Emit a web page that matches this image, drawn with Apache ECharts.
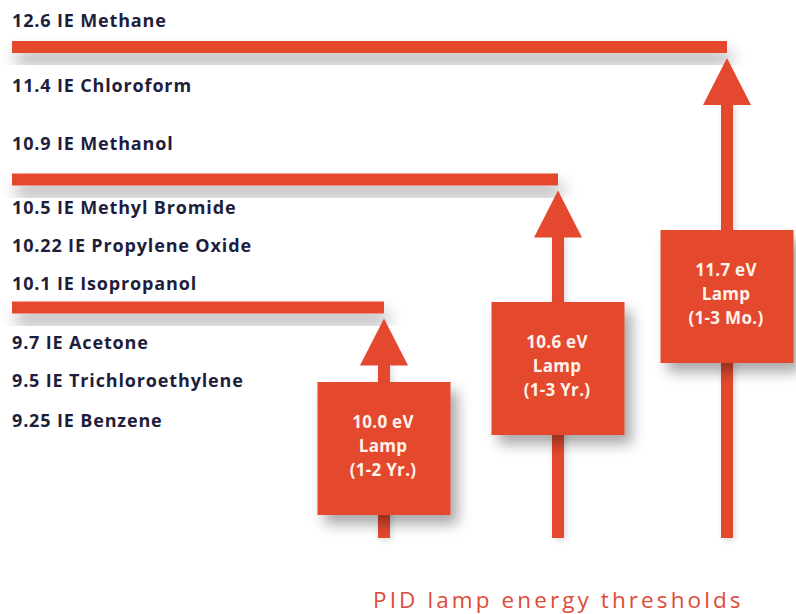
<!DOCTYPE html>
<html><head><meta charset="utf-8">
<script src="https://cdn.jsdelivr.net/npm/echarts@6/dist/echarts.min.js"></script>
<style>html,body{margin:0;padding:0;background:#fff}#c{width:796px;height:614px}</style>
</head><body><div id="c"></div>
<script>
// ---------- DATA ----------
const compoundNames = ['Methane', 'Chloroform', 'Methanol', 'Methyl Bromide', 'Propylene Oxide', 'Isopropanol', 'Acetone', 'Trichloroethylene', 'Benzene'];
const compoundIE = [12.6, 11.4, 10.9, 10.5, 10.22, 10.1, 9.7, 9.5, 9.25];
const lampEnergy = [10.0, 10.6, 11.7];
const lampLife = ['1-2 Yr.', '1-3 Yr.', '1-3 Mo.'];
const chartTitle = 'PID lamp energy thresholds';

// ---------- LAYOUT (infographic positions, in layout units of the hidden axes) ----------
const labelRowY = [20, 85, 142.5, 207, 245, 283, 341.5, 380, 420];
const lampColX = [384, 558, 727];
const thresholdBarY = [307.5, 179.5, 47];
const lampBoxTop = [382, 302, 230];
const leftEdge = 12;
const arrowBottom = 538;

const RED = '#e4482f';
const NAVY = '#1e1e3c';
const FONT = '"Open Sans", sans-serif';

const chart = echarts.init(document.getElementById('c'), null, {renderer: 'svg'});

const labelData = compoundIE.map((v, i) => [leftEdge, labelRowY[i], v + ' IE ' + compoundNames[i]]);
const lampData = lampEnergy.map((e, i) => [lampColX[i], thresholdBarY[i], lampBoxTop[i], e.toFixed(1) + ' eV\nLamp\n(' + lampLife[i] + ')']);

chart.setOption({
  animation: false,
  backgroundColor: '#ffffff',
  grid: {left: 0, right: 0, top: 0, bottom: 0},
  xAxis: {type: 'value', min: 0, max: 796, show: false},
  yAxis: {type: 'value', min: 0, max: 614, inverse: true, show: false},
  series: [
    {
      type: 'custom',
      name: 'thresholds',
      data: lampData,
      z: 2,
      renderItem: function (params, api) {
        const cx = api.value(0), by = api.value(1), top = api.value(2);
        const p0 = api.coord([leftEdge, by]);
        const pc = api.coord([cx, by]);
        const barH = 12;
        const tipY = pc[1] + barH / 2 + 5;
        const headH = 47, headW = 24, shaftW = 12;
        const bottom = api.coord([cx, arrowBottom])[1];
        const boxTop = api.coord([cx, top])[1];
        const boxS = 133;
        const children = [
          {type: 'rect', shape: {x: p0[0], y: pc[1] - barH / 2, width: pc[0] - p0[0], height: barH},
            style: {fill: RED, shadowBlur: 16, shadowOffsetY: 11, shadowOffsetX: 4, shadowColor: 'rgba(0,0,0,0.34)'}},
          {type: 'rect', shape: {x: pc[0] - shaftW / 2, y: tipY + headH - 2, width: shaftW, height: bottom - (tipY + headH - 2)},
            style: {fill: RED, shadowBlur: 6, shadowOffsetX: 2, shadowOffsetY: 2, shadowColor: 'rgba(0,0,0,0.15)'}},
          {type: 'polygon', shape: {points: [[pc[0], tipY], [pc[0] + headW, tipY + headH], [pc[0] - headW, tipY + headH]]},
            style: {fill: RED}},
          {type: 'rect', shape: {x: pc[0] - boxS / 2, y: boxTop, width: boxS, height: boxS},
            style: {fill: RED, shadowBlur: 14, shadowOffsetX: 7, shadowOffsetY: 9, shadowColor: 'rgba(0,0,0,0.35)'}},
          {type: 'text', style: {x: pc[0] - 1, y: boxTop + boxS / 2 - 3, text: api.value(3), fill: '#fff3ec',
            font: 'bold 17px ' + FONT, lineHeight: 24, align: 'center', verticalAlign: 'middle'}}
        ];
        return {type: 'group', children: children};
      }
    },
    {
      type: 'custom',
      name: 'compounds',
      data: labelData,
      z: 3,
      renderItem: function (params, api) {
        const p = api.coord([api.value(0), api.value(1)]);
        return {type: 'text', style: {x: p[0], y: p[1], text: api.value(2), fill: NAVY,
          font: 'bold 18px ' + FONT, align: 'left', verticalAlign: 'middle'}};
      }
    },
    {
      type: 'custom',
      name: 'title',
      data: [[373, 599, chartTitle]],
      z: 3,
      renderItem: function (params, api) {
        const p = api.coord([api.value(0), api.value(1)]);
        return {type: 'text', style: {x: p[0], y: p[1], text: api.value(2), fill: '#e04b36',
          font: '22.5px ' + FONT, align: 'left', verticalAlign: 'middle'}};
      }
    }
  ]
});

// Gotham-like wide tracking for the texts (SVG renderer)
document.querySelectorAll('#c svg text').forEach(function (t) {
  const s = t.textContent;
  if (s === chartTitle) t.style.letterSpacing = '3.1px';
  else if (/eV|Lamp|\(/.test(s)) t.style.letterSpacing = '0.3px';
  else t.style.letterSpacing = '0.85px';
});
</script>
</body></html>
